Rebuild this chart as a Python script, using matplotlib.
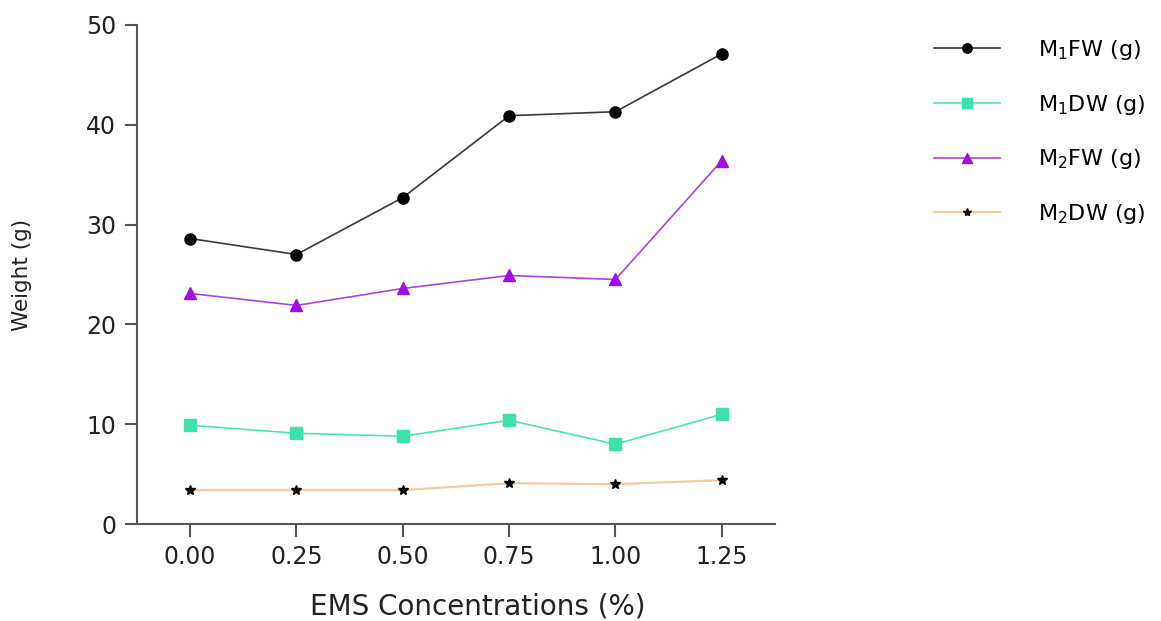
import matplotlib
matplotlib.use("Agg")
import matplotlib.pyplot as plt

plt.rcParams['font.family'] = ['DejaVu Sans']
plt.rcParams['mathtext.fontset'] = 'dejavusans'

# data
conc = [0.00, 0.25, 0.50, 0.75, 1.00, 1.25]
conc_labels = ['0.00', '0.25', '0.50', '0.75', '1.00', '1.25']
m1_fw = [28.6, 27.0, 32.7, 40.9, 41.3, 47.1]
m1_dw = [9.9, 9.1, 8.8, 10.4, 8.0, 11.0]
m2_fw = [23.1, 21.9, 23.6, 24.9, 24.5, 36.4]
m2_dw = [3.4, 3.4, 3.4, 4.1, 4.0, 4.4]

fig = plt.figure(figsize=(11.61, 6.21), dpi=100)
ax = fig.add_axes([0.118, 0.156, 0.5495, 0.804])

ax.plot(conc, m1_fw, color='#3a3a3a', lw=1.2, marker='o', ms=8,
        mfc='black', mec='black', label=r'M$_1$FW (g)')
ax.plot(conc, m1_dw, color='#4de3b2', lw=1.2, marker='s', ms=8,
        mfc='#3fe0a8', mec='#3fe0a8', label=r'M$_1$DW (g)')
ax.plot(conc, m2_fw, color='#b040e0', lw=1.2, marker='^', ms=8,
        mfc='#a010e0', mec='#a010e0', label=r'M$_2$FW (g)')
ax.plot(conc, m2_dw, color='#f5c9a0', lw=1.6, marker='*', ms=7,
        mfc='black', mec='black', label=r'M$_2$DW (g)')

ax.set_xlim(-0.125, 1.375)
ax.set_ylim(0, 50)
ax.set_xticks(conc)
ax.set_xticklabels(conc_labels)
ax.set_yticks([0, 10, 20, 30, 40, 50])

for s in ['top', 'right']:
    ax.spines[s].set_visible(False)
for s in ['left', 'bottom']:
    ax.spines[s].set_color('#555555')
    ax.spines[s].set_linewidth(1.5)
ax.tick_params(axis='both', length=9, width=1.5, color='#555555',
               labelsize=17, pad=6, labelcolor='#222222')

ax.set_xlabel('EMS Concentrations (%)', fontsize=20, color='#222222')
ax.xaxis.set_label_coords(0.534, -0.136)
ax.set_ylabel('Weight (g)', fontsize=15.5, color='#222222')
ax.yaxis.set_label_coords(-0.165, 0.5)

ax.legend(loc='upper left', bbox_to_anchor=(0.787, 0.971), bbox_transform=fig.transFigure,
          frameon=False, fontsize=16, handlelength=3.0, handletextpad=1.7,
          labelspacing=1.38, markerscale=0.85)

fig.savefig('out.png', dpi=100)
